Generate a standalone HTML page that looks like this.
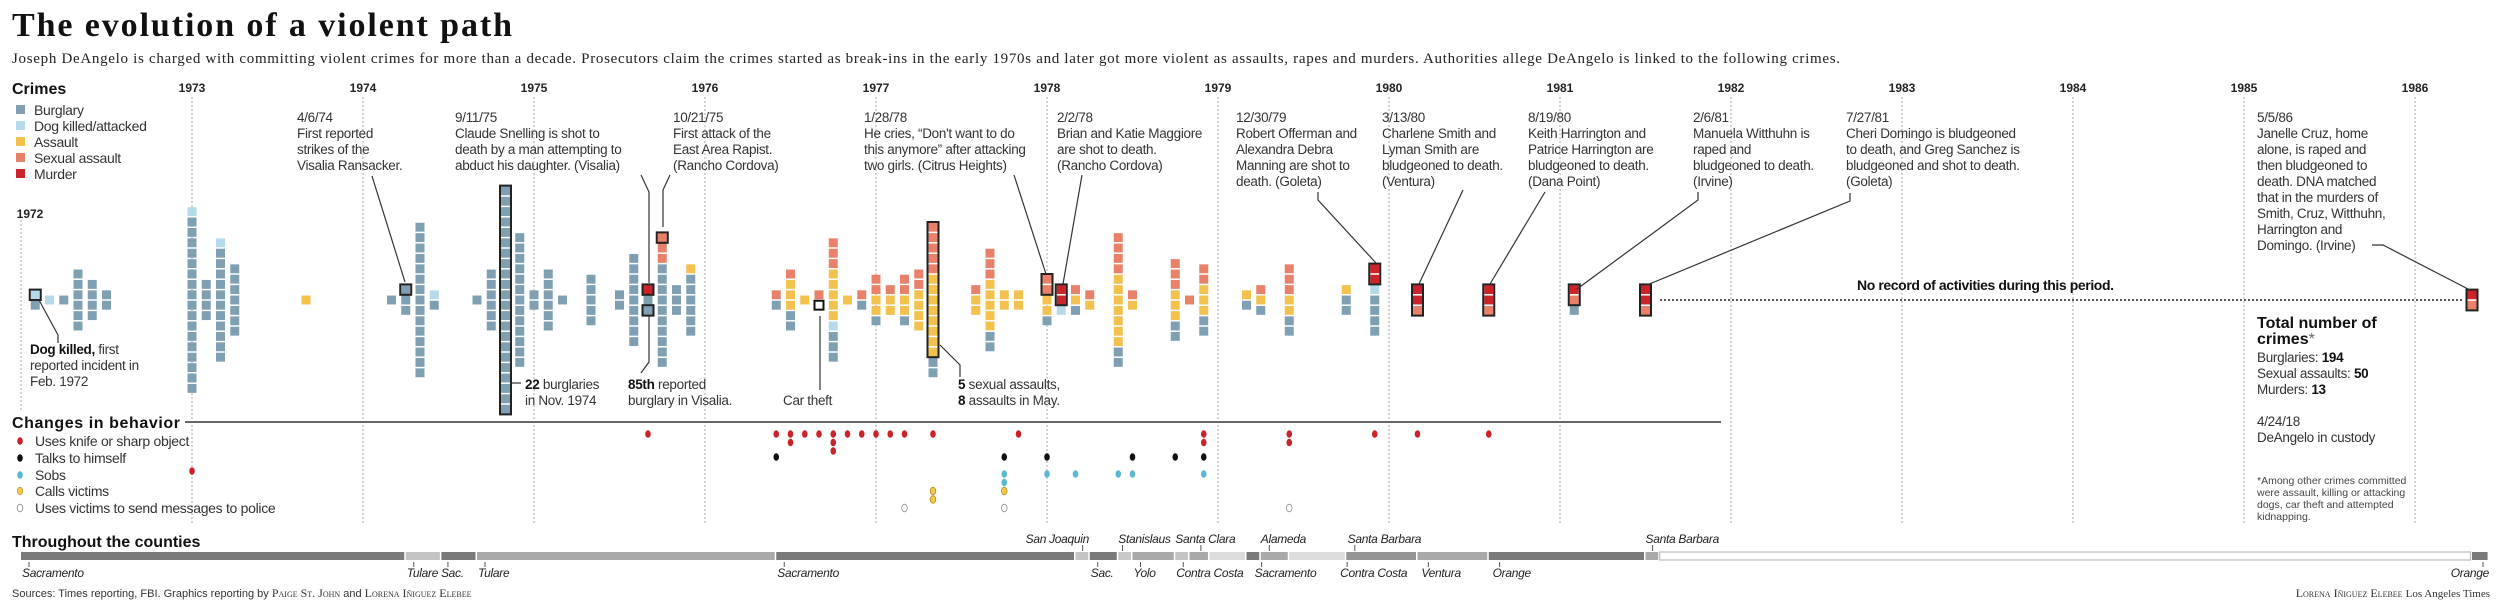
<!DOCTYPE html>
<html><head><meta charset="utf-8"><title>The evolution of a violent path</title>
<style>
html,body{margin:0;padding:0;background:#fff;}
svg{display:block;font-family:"Liberation Sans",sans-serif;}
.ann{font-size:13.5px;fill:#333;letter-spacing:-0.3px;}
.yr{font-size:12px;font-weight:bold;fill:#222;text-anchor:middle;}
.cty{font-size:12px;font-style:italic;fill:#222;letter-spacing:-0.3px;}
.hdr{font-size:16px;font-weight:bold;fill:#111;}
.lg{font-size:14px;fill:#333;letter-spacing:-0.3px;}
.lead{stroke:#333;stroke-width:1.2;fill:none;}
</style></head>
<body>
<svg id="chart" width="2500" height="614" viewBox="0 0 2500 614">
<text x="12" y="36" font-family="Liberation Serif,serif" font-size="34" font-weight="bold" fill="#111" textLength="500">The evolution of a violent path</text>
<text x="12" y="63" font-family="Liberation Serif,serif" font-size="15" fill="#222" textLength="1828">Joseph DeAngelo is charged with committing violent crimes for more than a decade. Prosecutors claim the crimes started as break-ins in the early 1970s and later got more violent as assaults, rapes and murders. Authorities allege DeAngelo is linked to the following crimes.</text>

<g>
<text class="hdr" x="12" y="94">Crimes</text>
<rect x="16" y="105" width="9" height="9" fill="#7f9fb3"/><text class="lg" x="34" y="115">Burglary</text>
<rect x="16" y="121" width="9" height="9" fill="#b5dbeb"/><text class="lg" x="34" y="131">Dog killed/attacked</text>
<rect x="16" y="137" width="9" height="9" fill="#f2c14e"/><text class="lg" x="34" y="147">Assault</text>
<rect x="16" y="153" width="9" height="9" fill="#e8806a"/><text class="lg" x="34" y="163">Sexual assault</text>
<rect x="16" y="169" width="9" height="9" fill="#cc2229"/><text class="lg" x="34" y="179">Murder</text>
</g>

<g id="yearLines"></g>
<g id="cols"></g>

<g>
<text class="ann" x="30" y="354"><tspan font-weight="bold" fill="#111">Dog killed,</tspan> first<tspan x="30" dy="16">reported incident in</tspan><tspan x="30" dy="16">Feb. 1972</tspan></text>
<polyline class="lead" points="39,300 58,335 58,343"/>

<text class="ann" x="297" y="122">4/6/74<tspan x="297" dy="16">First reported</tspan><tspan x="297" dy="16">strikes of the</tspan><tspan x="297" dy="16">Visalia Ransacker.</tspan></text>
<polyline class="lead" points="372,176 405,282"/>

<text class="ann" x="455" y="122">9/11/75<tspan x="455" dy="16">Claude Snelling is shot to</tspan><tspan x="455" dy="16">death by a man attempting to</tspan><tspan x="455" dy="16">abduct his daughter. (Visalia)</tspan></text>
<polyline class="lead" points="641,175 649,192 649,283"/>

<text class="ann" x="673" y="122">10/21/75<tspan x="673" dy="16">First attack of the</tspan><tspan x="673" dy="16">East Area Rapist.</tspan><tspan x="673" dy="16">(Rancho Cordova)</tspan></text>
<polyline class="lead" points="670,175 663,190 663,227"/>

<text class="ann" x="864" y="122">1/28/78<tspan x="864" dy="16">He cries, “Don't want to do</tspan><tspan x="864" dy="16">this anymore” after attacking</tspan><tspan x="864" dy="16">two girls. (Citrus Heights)</tspan></text>
<polyline class="lead" points="1014,175 1046,274"/>

<text class="ann" x="1057" y="122">2/2/78<tspan x="1057" dy="16">Brian and Katie Maggiore</tspan><tspan x="1057" dy="16">are shot to death.</tspan><tspan x="1057" dy="16">(Rancho Cordova)</tspan></text>
<polyline class="lead" points="1082,175 1063,284"/>

<text class="ann" x="1236" y="122">12/30/79<tspan x="1236" dy="16">Robert Offerman and</tspan><tspan x="1236" dy="16">Alexandra Debra</tspan><tspan x="1236" dy="16">Manning are shot to</tspan><tspan x="1236" dy="16">death. (Goleta)</tspan></text>
<polyline class="lead" points="1318,192 1318,200 1376,263"/>

<text class="ann" x="1382" y="122">3/13/80<tspan x="1382" dy="16">Charlene Smith and</tspan><tspan x="1382" dy="16">Lyman Smith are</tspan><tspan x="1382" dy="16">bludgeoned to death.</tspan><tspan x="1382" dy="16">(Ventura)</tspan></text>
<polyline class="lead" points="1463,190 1419,284"/>

<text class="ann" x="1528" y="122">8/19/80<tspan x="1528" dy="16">Keith Harrington and</tspan><tspan x="1528" dy="16">Patrice Harrington are</tspan><tspan x="1528" dy="16">bludgeoned to death.</tspan><tspan x="1528" dy="16">(Dana Point)</tspan></text>
<polyline class="lead" points="1545,192 1490,284"/>

<text class="ann" x="1693" y="122">2/6/81<tspan x="1693" dy="16">Manuela Witthuhn is</tspan><tspan x="1693" dy="16">raped and</tspan><tspan x="1693" dy="16">bludgeoned to death.</tspan><tspan x="1693" dy="16">(Irvine)</tspan></text>
<polyline class="lead" points="1698,192 1698,200 1577,289"/>

<text class="ann" x="1846" y="122">7/27/81<tspan x="1846" dy="16">Cheri Domingo is bludgeoned</tspan><tspan x="1846" dy="16">to death, and Greg Sanchez is</tspan><tspan x="1846" dy="16">bludgeoned and shot to death.</tspan><tspan x="1846" dy="16">(Goleta)</tspan></text>
<polyline class="lead" points="1850,193 1850,201 1647,285"/>

<text class="ann" x="2257" y="122">5/5/86<tspan x="2257" dy="16">Janelle Cruz, home</tspan><tspan x="2257" dy="16">alone, is raped and</tspan><tspan x="2257" dy="16">then bludgeoned to</tspan><tspan x="2257" dy="16">death. DNA matched</tspan><tspan x="2257" dy="16">that  in the murders of</tspan><tspan x="2257" dy="16">Smith, Cruz, Witthuhn,</tspan><tspan x="2257" dy="16">Harrington and</tspan><tspan x="2257" dy="16">Domingo. (Irvine)</tspan></text>
<polyline class="lead" points="2372,245 2383,245 2470,290"/>

<text class="ann" x="525" y="389"><tspan font-weight="bold" fill="#111">22</tspan> burglaries<tspan x="525" dy="16">in Nov. 1974</tspan></text>
<line class="lead" x1="511" y1="383" x2="521" y2="383"/>
<text class="ann" x="628" y="389"><tspan font-weight="bold" fill="#111">85th</tspan> reported<tspan x="628" dy="16">burglary in Visalia.</tspan></text>
<polyline class="lead" points="649,316 649,362 641,373"/>
<text class="ann" x="783" y="405">Car theft</text>
<line class="lead" x1="820" y1="316" x2="820" y2="390"/>
<text class="ann" x="958" y="389"><tspan font-weight="bold" fill="#111">5</tspan> sexual assaults,<tspan x="958" dy="16"><tspan font-weight="bold" fill="#111">8</tspan> assaults in May.</tspan></text>
<polyline class="lead" points="940,345 960,365 960,377"/>

<text x="1857" y="290" font-size="14" font-weight="bold" fill="#111" textLength="257">No record of activities during this period.</text>
<line x1="1660" y1="300" x2="2464" y2="300" stroke="#222" stroke-width="1.5" stroke-dasharray="2,2"/>

<g>
<text x="2257" y="328" font-size="16" font-weight="bold" fill="#111">Total number of</text>
<text x="2257" y="344" font-size="16" font-weight="bold" fill="#111">crimes<tspan font-weight="normal" fill="#666">*</tspan></text>
<text class="ann" x="2257" y="362">Burglaries: <tspan font-weight="bold" fill="#111">194</tspan></text>
<text class="ann" x="2257" y="378">Sexual assaults: <tspan font-weight="bold" fill="#111">50</tspan></text>
<text class="ann" x="2257" y="394">Murders: <tspan font-weight="bold" fill="#111">13</tspan></text>
<text class="ann" x="2257" y="426">4/24/18</text>
<text class="ann" x="2257" y="442">DeAngelo in custody</text>
<text x="2257" y="484" font-size="10.5" fill="#444">*Among other crimes committed<tspan x="2257" dy="12">were assault, killing or attacking</tspan><tspan x="2257" dy="12">dogs, car theft and attempted</tspan><tspan x="2257" dy="12">kidnapping.</tspan></text>
</g>
</g>

<g>
<text class="hdr" x="12" y="428" textLength="168">Changes in behavior</text>
<line x1="185" y1="422" x2="1721" y2="422" stroke="#666" stroke-width="2"/>
<ellipse cx="20" cy="441" rx="2.8" ry="3.8" fill="#cc2229"/><text class="lg" x="35" y="446" font-size="13.5">Uses knife or sharp object</text>
<ellipse cx="20" cy="458" rx="2.8" ry="3.8" fill="#111"/><text class="lg" x="35" y="463" font-size="13.5">Talks to himself</text>
<ellipse cx="20" cy="475" rx="2.8" ry="3.8" fill="#5bb8d4"/><text class="lg" x="35" y="480" font-size="13.5">Sobs</text>
<ellipse cx="20" cy="491" rx="2.8" ry="3.8" fill="#f2c94e" stroke="#b08a20" stroke-width="0.6"/><text class="lg" x="35" y="496" font-size="13.5">Calls victims</text>
<ellipse cx="20" cy="508" rx="2.8" ry="3.8" fill="#fff" stroke="#888" stroke-width="0.8"/><text class="lg" x="35" y="513" font-size="13.5">Uses victims to send messages to police</text>
<g id="dots"></g>
</g>

<g>
<text class="hdr" x="12" y="547">Throughout the counties</text>
<g id="counties"></g>
<g id="countyLabels"></g>
</g>

<text x="12" y="597" font-size="11" fill="#333">Sources: Times reporting, FBI. Graphics reporting by <tspan font-family="Liberation Serif,serif" font-variant="small-caps" font-size="12">Paige St. John</tspan> and <tspan font-family="Liberation Serif,serif" font-variant="small-caps" font-size="12">Lorena Iñiguez Elebee</tspan></text>
<text x="2490" y="597" font-size="11" fill="#333" text-anchor="end"><tspan font-family="Liberation Serif,serif" font-variant="small-caps" font-size="12">Lorena Iñiguez Elebee</tspan> <tspan font-family="Liberation Serif,serif">Los Angeles Times</tspan></text>
</svg>

<script>
const colYear   = [1972,1972,1972,1972,1972,1972, 1973,1973,1973,1973,1973, 1974,1974,1974,1974,1974,1974,1974,1974, 1975,1975,1975,1975,1975,1975,1975,1975,1975,1975, 1976,1976,1976,1976,1976,1976,1976, 1977,1977,1977,1977,1977,1977,1977,1977,1977, 1978,1978,1978,1978,1978,1978,1978,1978,1978, 1979,1979,1979,1979,1979, 1980,1980, 1981,1981, 1986];
const colMonth  = [2,3,4,5,6,7, 1,2,3,4,9, 3,4,5,6,9,10,11,12, 1,2,3,5,7,8,9,10,11,12, 6,7,8,9,10,11,12, 1,2,3,4,5,8,9,10,11, 1,2,3,4,6,7,10,11,12, 3,4,6,10,12, 3,8, 2,7, 5];
const murder    = [0,0,0,0,0,0, 0,0,0,0,0, 0,0,0,0,0,0,0,0, 0,0,0,0,0,0,1,0,0,0, 0,0,0,0,0,0,0, 0,0,0,0,0,0,0,0,0, 0,2,0,0,0,0,0,0,0, 0,0,0,0,2, 2,2, 1,2, 1];
const sexual    = [0,0,0,0,0,0, 0,0,0,0,0, 0,0,0,0,0,0,0,0, 0,0,0,0,0,0,0,3,0,0, 1,1,0,1,3,0,1, 2,1,2,2,5,1,3,0,0, 2,0,1,1,4,1,3,1,2, 0,1,3,0,0, 1,1, 1,1, 1];
const assault   = [0,0,0,0,0,0, 0,0,0,0,1, 0,0,0,0,0,0,0,0, 0,0,0,0,0,0,0,0,0,1, 0,3,1,0,5,1,0, 2,2,2,4,8,2,5,2,2, 2,0,1,1,7,1,3,0,3, 1,1,2,1,0, 0,0, 0,0, 0];
const dog       = [1,1,0,0,0,0, 1,0,1,0,0, 0,0,0,1,0,0,0,0, 0,0,0,0,0,0,0,0,0,0, 0,0,0,0,1,0,0, 0,0,0,0,0,0,0,0,0, 0,1,0,0,0,0,0,0,0, 0,0,0,0,1, 0,0, 0,0, 0];
const carTheft  = [0,0,0,0,0,0, 0,0,0,0,0, 0,0,0,0,0,0,0,0, 0,0,0,0,0,0,0,0,0,0, 0,0,0,1,0,0,0, 0,0,0,0,0,0,0,0,0, 0,0,0,0,0,0,0,0,0, 0,0,0,0,0, 0,0, 0,0, 0];
const burglary  = [1,0,1,6,4,2, 17,4,11,7,0, 1,3,15,1,1,6,22,13, 2,6,1,5,2,9,2,10,3,6, 1,2,0,0,3,0,1, 1,0,1,0,2,0,2,0,0, 1,0,1,0,2,0,2,0,2, 1,1,2,2,4, 0,0, 1,0, 0];
const hlYear  = [1972,1974,1974,1975,1975,1975,1977,1978,1978,1979,1980,1980,1981,1981,1986];
const hlMonth = [2,4,11,9,9,10,5,1,2,12,3,8,2,7,5];
const hlFrom  = [0,0,0,0,2,0,0,0,0,0,0,0,0,0,0];
const hlCount = [1,1,22,1,1,1,13,2,2,2,3,3,2,3,2];
const yearTicks = [1972,1973,1974,1975,1976,1977,1978,1979,1980,1981,1982,1983,1984,1985,1986];

const knifeMonths = [44,53,54,54,55,56,57,57,57,58,59,60,61,62,64,70,83,83,89,89,95,98,103];
const talkMonths  = [53,69,72,78,81,83];
const sobMonths   = [69,69,72,74,77,78,83];
const callMonths  = [64,64,69];
const msgMonths   = [62,69,89];
const knifeOddMonths = [12];

const segStart = [0,27,29.5,32,53,74,75,77,78,81,82,83.4,86,87,89,93,98,103,114,115,172];
const segShade = ['dark','light','dark','mid','dark','light','dark','stripe','mid','light','mid','vlight','dark','mid','vlight','mdark','mid','dark','mid','white','dark'];
const segEnd = 173.2;
const ctyBelowName  = ['Sacramento','Tulare','Sac.','Tulare','Sacramento','Sac.','Yolo','Contra Costa','Sacramento','Contra Costa','Ventura','Orange'];
const ctyBelowMonth = [0,27,29.4,32,53,75,78,81,86.5,92.5,98.2,103.2];
const ctyAboveName  = ['San Joaquin','Stanislaus','Santa Clara','Alameda','Santa Barbara','Santa Barbara'];
const ctyAboveMonth = [70.5,77,81,87,93.1,114];
const ctyAboveTick  = [74.5,77.3,82.8,87.6,93.6,114.5];

const NS='http://www.w3.org/2000/svg';
const colors={murder:'#cc2229',sexual:'#e8806a',assault:'#f2c14e',dog:'#b5dbeb',car:'#ffffff',burglary:'#7f9fb3'};
const X0=21, YEARW=171, MW=YEARW/12, CY=300, P=10.4;
function xYear(y){return X0+YEARW*(y-1972);}
function xMonth(y,m){return xYear(y)+MW*(m-1);}
function xIdx(k){return X0+MW*k;}
function mk(tag,attrs,parent){const e=document.createElementNS(NS,tag);for(const k in attrs)e.setAttribute(k,attrs[k]);parent.appendChild(e);return e;}

const yl=document.getElementById('yearLines');
yearTicks.forEach(y=>{
  const x=xYear(y);
  const ln=mk('line',{x1:x,x2:x,y1:y===1972?220:97,y2:y===1972?410:525,stroke:'#aaa','stroke-width':1,'stroke-dasharray':'2,2'},yl);
  
  
  const t=mk('text',{x:y===1972?x+9:x,y:y===1972?218:92,class:'yr'},yl);
  t.textContent=y;
  
  
});

const cg=document.getElementById('cols');
const stackIndex={};
for(let i=0;i<colYear.length;i++){
  const items=[];
  for(let j=0;j<murder[i];j++)items.push('murder');
  for(let j=0;j<sexual[i];j++)items.push('sexual');
  for(let j=0;j<assault[i];j++)items.push('assault');
  for(let j=0;j<dog[i];j++)items.push('dog');
  for(let j=0;j<carTheft[i];j++)items.push('car');
  for(let j=0;j<burglary[i];j++)items.push('burglary');
  const n=items.length, cx=xMonth(colYear[i],colMonth[i]), top=CY-n*P/2;
  stackIndex[colYear[i]+'-'+colMonth[i]]={cx,top,n};
  items.forEach((t,j)=>{
    const r=mk('rect',{x:cx-4.5,y:top+j*P+0.75,width:9,height:P-1.5,fill:colors[t]},cg);
    if(t==='car'){r.setAttribute('stroke','#111');r.setAttribute('stroke-width','2');}
    
    
  });
}
for(let i=0;i<hlYear.length;i++){
  const s=stackIndex[hlYear[i]+'-'+hlMonth[i]]; if(!s)continue;
  const r=mk('rect',{x:s.cx-5.5,y:s.top+hlFrom[i]*P,width:11,height:hlCount[i]*P,fill:'none',stroke:'#222','stroke-width':2},cg);
  
  
}

const dg=document.getElementById('dots');
function dotRow(months,rowY,fill,stroke,name){
  const cnt={};
  months.forEach(k=>{
    const s=cnt[k]||0;cnt[k]=s+1;
    const e=mk('ellipse',{cx:xIdx(k),cy:rowY+s*8.5,rx:2.8,ry:3.8,fill:fill},dg);
    if(stroke){e.setAttribute('stroke',stroke);e.setAttribute('stroke-width','0.8');}
    
    
  });
}
dotRow(knifeMonths,434,'#cc2229',null,'dot-knife');
dotRow(talkMonths,457,'#111',null,'dot-talks');
dotRow(sobMonths,474,'#5bb8d4',null,'dot-sobs');
dotRow(callMonths,491,'#f2c94e','#b08a20','dot-calls');
dotRow(msgMonths,508,'#fff','#888','dot-messages');
dotRow(knifeOddMonths,471,'#cc2229',null,'dot-knife');

const shades={dark:'#7a7a7a',mdark:'#959595',mid:'#a9a9a9',light:'#c4c4c4',vlight:'#dcdcdc',stripe:'#c8c8c8',white:'#ffffff'};
const kg=document.getElementById('counties');
for(let i=0;i<segStart.length;i++){
  const a=xIdx(segStart[i]), b=xIdx(i+1<segStart.length?segStart[i+1]:segEnd);
  const r=mk('rect',{x:a,y:552,width:Math.max(1,b-a-1.5),height:8,fill:shades[segShade[i]]},kg);
  if(segShade[i]==='white'){r.setAttribute('stroke','#bbb');r.setAttribute('stroke-width','1.2');}
  
  
}
const lg=document.getElementById('countyLabels');
ctyBelowName.forEach((nm,i)=>{
  const x=xIdx(ctyBelowMonth[i]);
  mk('line',{x1:x+8,x2:x+8,y1:562,y2:567,stroke:'#555'},lg);
  const t=mk('text',{x:x+1,y:577,class:'cty'},lg);
  t.textContent=nm;
  
  
});
{ const t=mk('text',{x:2489,y:577,class:'cty','text-anchor':'end'},lg);
  t.textContent='Orange';
  
  
  mk('line',{x1:2483,x2:2483,y1:562,y2:567,stroke:'#555'},lg); }
ctyAboveName.forEach((nm,i)=>{
  const t=mk('text',{x:xIdx(ctyAboveMonth[i]),y:543,class:'cty'},lg);
  t.textContent=nm;
  
  
  const tx=xIdx(ctyAboveTick[i]);
  mk('line',{x1:tx,x2:tx,y1:545,y2:551,stroke:'#555'},lg);
});
</script>
</body></html>
